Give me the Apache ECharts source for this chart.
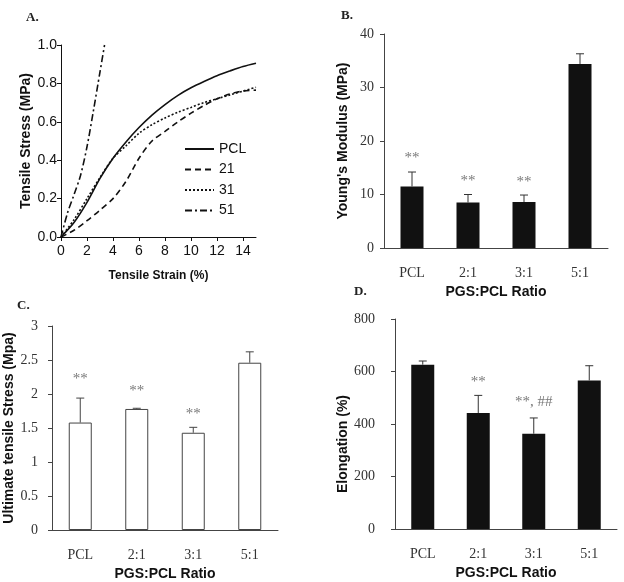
<!DOCTYPE html>
<html>
<head>
<meta charset="utf-8">
<script src="https://cdn.jsdelivr.net/npm/echarts@6/dist/echarts.min.js"></script>
<style>
    html, body { margin: 0; padding: 0; background: #fff; }
    #chart { width: 624px; height: 582px; }
</style>
</head>
<body>
<div id="chart"></div>
<script>
/*panel A: stress-strain curves*/
const strainAxis = [0, 1, 2, 3, 4, 5, 6, 7, 8, 9, 10, 11, 12, 13, 14, 15];
const stressPCL = [0, 0.075, 0.18, 0.305, 0.41, 0.495, 0.57, 0.635, 0.69, 0.738, 0.777, 0.81, 0.84, 0.865, 0.888, 0.905];
const stress21 = [0, 0.035, 0.085, 0.14, 0.2, 0.29, 0.41, 0.5, 0.55, 0.6, 0.645, 0.685, 0.72, 0.745, 0.76, 0.765];
const stress31 = [0, 0.09, 0.2, 0.31, 0.41, 0.475, 0.54, 0.585, 0.62, 0.65, 0.675, 0.7, 0.72, 0.74, 0.76, 0.78];
const strain51 = [0, 0.5, 1, 1.5, 2, 2.5, 3, 3.35];
const stress51 = [0, 0.125, 0.22, 0.32, 0.47, 0.66, 0.86, 1.0];
const curveNames = ['PCL', '21', '31', '51'];

/*bar panels*/
const ratios = ['PCL', '2:1', '3:1', '5:1'];

const modulus = [11.5, 8.5, 8.6, 34.4];
const modulusSd = [2.7, 1.5, 1.3, 1.9];
const modulusMarks = ['**', '**', '**'];
const modulusMarkAt = [16.8, 12.6, 12.3];

const uts = [1.58, 1.78, 1.43, 2.46];
const utsSd = [0.36, 0.01, 0.08, 0.16];
const utsMarks = ['**', '**', '**'];
const utsMarkAt = [2.22, 2.05, 1.7];

const elongation = [626, 442, 363, 566];
const elongationSd = [14, 67, 60, 56];
const elongationMarks = ['', '**', '**, ##'];
const elongationMarkAt = [0, 560, 482];

const sans = "'Liberation Sans', Arial, sans-serif";
const serif = "'Liberation Serif', 'Times New Roman', serif";

function zip(xs, ys) {
    return xs.map(function (x, i) { return [x, ys[i]]; });
}

function barAxes(grid, max, interval, yName, nameGap, labelMargin, namePadding) {
    const x = {
        type: 'category', gridIndex: grid, data: ratios,
        axisLine: { lineStyle: { color: '#444', width: 1 } },
        axisTick: { length: 4, lineStyle: { color: '#444' } },
        axisLabel: { margin: 18, fontFamily: serif, fontSize: 14, color: '#333' },
        name: 'PGS:PCL Ratio', nameLocation: 'middle', nameGap: 37,
        nameTextStyle: { fontFamily: sans, fontWeight: 'bold', fontSize: 14, color: '#111' }
    };
    const y = {
        type: 'value', gridIndex: grid, min: 0, max: max, interval: interval,
        splitLine: { show: false },
        axisLine: { show: true, lineStyle: { color: '#444', width: 1 } },
        axisTick: { show: true, length: 4, lineStyle: { color: '#444' } },
        axisLabel: { margin: labelMargin, fontFamily: serif, fontSize: 14, color: '#333' },
        name: yName, nameLocation: 'middle', nameGap: nameGap, nameRotate: 90,
        nameTextStyle: { fontFamily: sans, fontWeight: 'bold', fontSize: 14, color: '#111', padding: namePadding }
    };
    return [x, y];
}

function errorSeries(idx, means, sds, color) {
    return {
        type: 'custom', xAxisIndex: idx, yAxisIndex: idx, z: 5, silent: true,
        data: means.map(function (m, i) { return [i, m, m + sds[i]]; }),
        renderItem: function (params, api) {
            const lo = api.coord([api.value(0), api.value(1)]);
            const hi = api.coord([api.value(0), api.value(2)]);
            const half = 4;
            const style = { stroke: color, lineWidth: 1 };
            return {
                type: 'group',
                children: [
                    { type: 'line', shape: { x1: lo[0], y1: lo[1], x2: hi[0], y2: hi[1] }, style: style },
                    { type: 'line', shape: { x1: hi[0] - half, y1: hi[1], x2: hi[0] + half, y2: hi[1] }, style: style }
                ]
            };
        }
    };
}

function markSeries(idx, marks, at) {
    return {
        type: 'scatter', xAxisIndex: idx, yAxisIndex: idx, symbolSize: 1, silent: true,
        itemStyle: { color: 'rgba(0,0,0,0)' },
        data: marks.map(function (m, i) { return { value: [i, at[i]], name: m }; }).filter(function (d) { return d.name; }),
        label: {
            show: true, position: 'inside', formatter: '{b}',
            fontFamily: serif, fontSize: 15, color: '#555'
        }
    };
}

const axesB = barAxes(1, 40, 10, "Young's Modulus (MPa)", 34, 10, 0);
const axesC = barAxes(2, 3, 0.5, 'Ultimate tensile Stress (Mpa)', 33, 14, 0);
const axesD = barAxes(3, 800, 200, 'Elongation (%)', 40, 20, [0, 40, 0, 0]);

const lineStyleBase = { color: '#111', width: 1.6 };

const option = {
    animation: false,
    backgroundColor: '#fff',
    grid: [
        { left: 61, top: 45, width: 195, height: 192 },
        { left: 384, top: 34, width: 224, height: 214 },
        { left: 52, top: 326, width: 226, height: 205 },
        { left: 395, top: 319, width: 222, height: 210 }
    ],
    legend: {
        data: curveNames, orient: 'vertical', left: 179, top: 137,
        itemWidth: 29, itemHeight: 14, itemGap: 6.5,
        itemStyle: { opacity: 0 },
        textStyle: { fontFamily: sans, fontSize: 14, color: '#111', lineHeight: 14 }
    },
    xAxis: [
        {
            type: 'value', gridIndex: 0, min: 0, max: 15, interval: 2,
            splitLine: { show: false },
            axisLine: { lineStyle: { color: '#111' } },
            axisTick: { length: 4, lineStyle: { color: '#111' } },
            axisLabel: { margin: 7, fontFamily: sans, fontSize: 14, color: '#111', showMaxLabel: false },
            name: 'Tensile Strain (%)', nameLocation: 'middle', nameGap: 33,
            nameTextStyle: { fontFamily: "'Liberation Sans Narrow', " + sans, fontWeight: 'bold', fontSize: 12, color: '#111' }
        },
        axesB[0], axesC[0], axesD[0]
    ],
    yAxis: [
        {
            type: 'value', gridIndex: 0, min: 0, max: 1, interval: 0.2,
            splitLine: { show: false },
            axisLine: { show: true, lineStyle: { color: '#111' } },
            axisTick: { show: true, length: 4, lineStyle: { color: '#111' } },
            axisLabel: { margin: 4, fontFamily: sans, fontSize: 14, color: '#111', formatter: function (v) { return v.toFixed(1); } },
            name: 'Tensile Stress (MPa)', nameLocation: 'middle', nameGap: 28, nameRotate: 90,
            nameTextStyle: { fontFamily: sans, fontWeight: 'bold', fontSize: 14, color: '#111' }
        },
        axesB[1], axesC[1], axesD[1]
    ],
    graphic: [
        { type: 'text', left: 26, top: 11, style: { text: 'A.', font: 'bold 13px ' + serif, fill: '#222' } },
        { type: 'text', left: 341, top: 9, style: { text: 'B.', font: 'bold 13px ' + serif, fill: '#222' } },
        { type: 'text', left: 17, top: 299, style: { text: 'C.', font: 'bold 13px ' + serif, fill: '#222' } },
        { type: 'text', left: 354, top: 285, style: { text: 'D.', font: 'bold 13px ' + serif, fill: '#222' } }
    ],
    series: [
        {
            name: 'PCL', type: 'line', xAxisIndex: 0, yAxisIndex: 0, symbol: 'none', smooth: 0.3,
            data: zip(strainAxis, stressPCL), lineStyle: Object.assign({}, lineStyleBase), itemStyle: { color: '#111' }
        },
        {
            name: '21', type: 'line', xAxisIndex: 0, yAxisIndex: 0, symbol: 'none', smooth: 0.3,
            data: zip(strainAxis, stress21), lineStyle: Object.assign({ type: [6, 4] }, lineStyleBase), itemStyle: { color: '#111' }
        },
        {
            name: '31', type: 'line', xAxisIndex: 0, yAxisIndex: 0, symbol: 'none', smooth: 0.3,
            data: zip(strainAxis, stress31), lineStyle: Object.assign({ type: [2, 2] }, lineStyleBase), itemStyle: { color: '#111' }
        },
        {
            name: '51', type: 'line', xAxisIndex: 0, yAxisIndex: 0, symbol: 'none', smooth: 0.3,
            data: zip(strain51, stress51), lineStyle: Object.assign({ type: [7, 3, 2, 3] }, lineStyleBase), itemStyle: { color: '#111' }
        },

        {
            type: 'bar', xAxisIndex: 1, yAxisIndex: 1, data: modulus, barWidth: 23,
            itemStyle: { color: '#111' }
        },
        errorSeries(1, modulus, modulusSd, '#333'),
        markSeries(1, modulusMarks, modulusMarkAt),

        {
            type: 'bar', xAxisIndex: 2, yAxisIndex: 2, data: uts, barWidth: 23,
            itemStyle: { color: '#fff', borderColor: '#444', borderWidth: 1 }
        },
        errorSeries(2, uts, utsSd, '#444'),
        markSeries(2, utsMarks, utsMarkAt),

        {
            type: 'bar', xAxisIndex: 3, yAxisIndex: 3, data: elongation, barWidth: 23,
            itemStyle: { color: '#111' }
        },
        errorSeries(3, elongation, elongationSd, '#333'),
        markSeries(3, elongationMarks, elongationMarkAt)
    ]
};

const chart = echarts.init(document.getElementById('chart'));
chart.setOption(option);
</script>
</body>
</html>
